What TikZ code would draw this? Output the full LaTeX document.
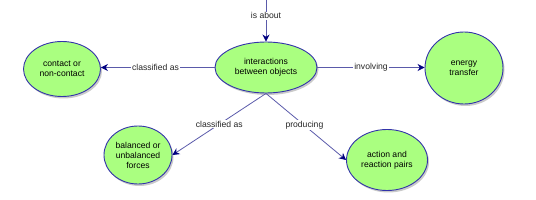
\documentclass[tikz,border=0pt]{standalone}
\usepackage{fontspec}
\setmainfont{Liberation Sans}
\usetikzlibrary{shapes.geometric,shadows,arrows.meta}
\definecolor{nodefill}{HTML}{AAFF80}
\definecolor{nodeborder}{HTML}{3333AA}
\definecolor{linkcol}{HTML}{5A5AAA}
\definecolor{tipcol}{HTML}{000080}
\begin{document}
\begin{tikzpicture}[x=1pt,y=-1pt,
  concept/.style={ellipse,draw=nodeborder,line width=0.9pt,fill=nodefill,
    align=center,inner sep=0pt,font=\fontsize{8.6}{10}\selectfont,
    drop shadow={shadow xshift=1.5pt,shadow yshift=-2pt,fill=black!35,opacity=0.6}},
  link/.style={draw=linkcol,line width=0.8pt,-{Stealth[length=7pt,width=7pt,fill=tipcol,color=tipcol]}},
  lab/.style={fill=white,inner sep=1pt,font=\fontsize{8.6}{10}\selectfont,text=black!85}]
\useasboundingbox (0,0) rectangle (536,200);
\node[concept,minimum width=102pt,minimum height=51pt] (cen) at (266,67.5) {interactions\\between objects};
\node[concept,minimum width=77pt,minimum height=55pt] (left) at (62,69) {contact or\\non-contact};
\node[concept,minimum width=78pt,minimum height=72pt] (right) at (464,68) {energy\\transfer};
\node[concept,minimum width=68pt,minimum height=58pt] (bl) at (138,155) {balanced or\\unbalanced\\forces};
\node[concept,minimum width=81pt,minimum height=61pt] (br) at (387,160) {action and\\reaction pairs};
\coordinate (top) at (266,0);
\draw[link] (top) -- node[lab,pos=0.38] {is about} (cen.north);
\draw[link] (cen.west) -- node[lab,pos=0.52] {classified as} (left.east |- cen.west);
\draw[link] (cen.east) -- node[lab,pos=0.5] {involving} (right.west |- cen.east);
\draw[link] (cen.south) -- node[lab,pos=0.5] {classified as} (bl.east);
\draw[link] (cen.south) -- node[lab,pos=0.48] {producing} (br.west);
\end{tikzpicture}
\end{document}
